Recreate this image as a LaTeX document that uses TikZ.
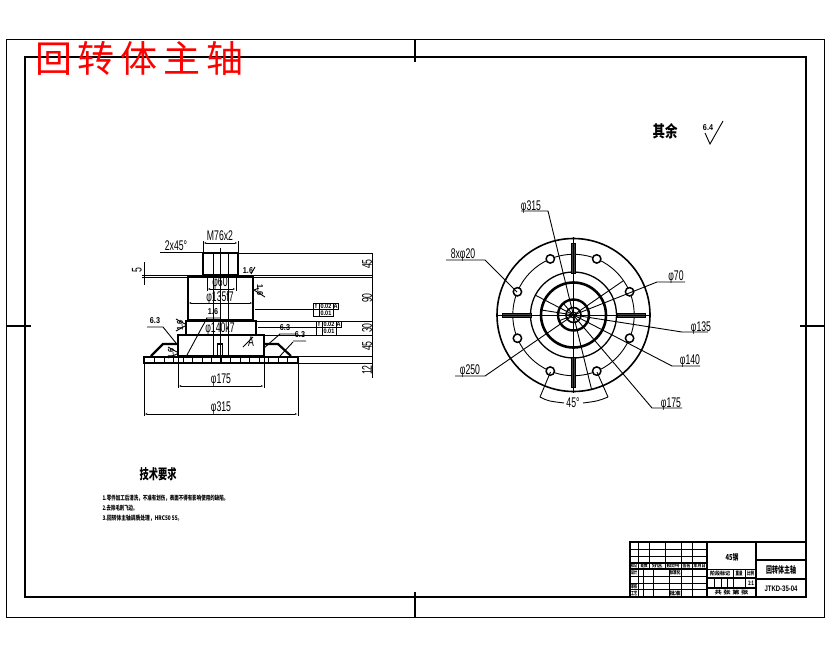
\documentclass[tikz,border=0pt]{standalone}
\usepackage{fontspec}
\usepackage{graphicx}
\setmainfont{Liberation Sans}
\newfontfamily\cjk{Noto Sans CJK SC}
\usetikzlibrary{arrows.meta}
\newcommand{\dt}[1]{\scalebox{0.62}[1]{\fontsize{14}{14}\selectfont #1}}
\newcommand{\tny}[1]{\scalebox{0.85}[1]{\fontsize{8.5}{8.5}\selectfont\bfseries #1}}
\newcommand{\tol}[1]{\scalebox{0.85}[1]{\fontsize{6.5}{6.5}\selectfont\bfseries #1}}
\newcommand{\cn}[3]{\resizebox{#1pt}{#2pt}{\cjk\bfseries #3}}
\tikzset{
  thin line/.style={line width=0.9pt,black},
  frame line/.style={line width=2pt,black},
  part line/.style={line width=2.2pt,black},
  dim/.style={line width=0.8pt,black,{Latex[length=3pt,width=1.6pt]}-{Latex[length=3pt,width=1.6pt]}},
  lbl/.style={inner sep=0pt,outer sep=0pt,black},
}
\begin{document}
\begin{tikzpicture}[x=1pt,y=-1pt]
\useasboundingbox (0,0) rectangle (830,654);
\fill[white] (0,0) rectangle (830,654);
% frames
\draw[thin line] (6,39) rectangle (824,617);
\draw[frame line] (25,57) rectangle (806,597);
\draw[frame line] (415,39) -- (415,62) (415,592) -- (415,617) (6,326) -- (31,326) (800,326) -- (824,326);
% title
\node[lbl,text=red,anchor=west] (title) at (35,58) {\fontsize{37}{37}\cjk 回\hspace{6pt}转\hspace{6pt}体\hspace{6pt}主\hspace{6pt}轴};
% other-surfaces note
\node[lbl] (other) at (665,131) {\cn{25}{14}{其余}};
\draw[thin line] (705,133) -- (710,144) -- (723,121);
\node[lbl] (ra) at (708,128) {\tny{6.4}};
% ---------- front view: dimension/extension lines
\draw[thin line] (238,253) -- (372,253) (142,275) -- (372,275) (142,277) -- (372,277)
  (256,321) -- (372,321) (264,335) -- (372,335) (264,356) -- (372,356) (298,363) -- (372,363)
  (372,253) -- (372,378) (144,262) -- (144,285);
\draw[thin line] (255,309) -- (313,309) (258,327) -- (316,327);
\draw[thin line] (220,248) -- (220,363) (213,253) -- (213,357) (228,253) -- (228,357);
\draw[thin line] (207,277) -- (207,291) (236,277) -- (236,291);
\draw[thin line] (203,253) -- (203,241) (238,253) -- (238,241);
\draw[thin line] (178,356) -- (178,388) (264,356) -- (264,388) (144,363) -- (144,416) (298,363) -- (298,416);
\draw[dim] (203,243) -- (238,243);
\draw[dim] (207,289) -- (236,289);
\draw[dim] (188,303) -- (253,303);
\draw[dim] (178,386) -- (264,386);
\draw[dim] (144,414) -- (298,414);
\draw[thin line] (160,252) -- (203,252);
% ---------- front view: part outline
\draw[part line] (203,275) rectangle (238,253);
\draw[part line] (188,277) rectangle (253,320);
\draw[part line] (186,321) rectangle (256,335);
\draw[part line] (178,335) rectangle (264,356);
\draw[part line] (151,356) -- (163,344) -- (178,344);
\draw[part line] (264,344) -- (278,344) -- (291,356);
\draw[part line] (144,357) rectangle (298,363);
\foreach \k in {0,...,14} \draw[thin line] ({154.7+\k*9.5},357) -- ({154.7+\k*9.5},363);
\draw[line width=1.5pt] (217.5,344) -- (217.5,357) (222.5,344) -- (222.5,357) (217,344) -- (223,344);
% dimension text, front view
\node[lbl] (d1) at (220,236) {\dt{M76x2}};
\node[lbl] (d2) at (176,246) {\dt{2x45°}};
\node[lbl,rotate=90] (d3) at (137,270) {\dt{5}};
\node[lbl] (d4) at (220,283) {\dt{φ60}};
\node[lbl] (d5) at (220,298) {\dt{φ135f7}};
\node[lbl] (d6) at (220,329) {\dt{φ140k7}};
\node[lbl] (d7) at (221,380) {\dt{φ175}};
\node[lbl] (d8) at (221,408) {\dt{φ315}};
\node[lbl,rotate=90] (d9) at (367,264) {\dt{45}};
\node[lbl,rotate=90] (d10) at (367,298) {\dt{90}};
\node[lbl,rotate=90] (d11) at (367,328) {\dt{30}};
\node[lbl,rotate=90] (d12) at (367,346) {\dt{45}};
\node[lbl,rotate=90] (d13) at (367,370) {\dt{12}};
% surface marks, front view
\draw[thin line] (147,327) -- (163,327) -- (176,343);
\node[lbl] (s1) at (155,321) {\tny{6.3}};
\draw[thin line] (176,319) -- (185,324) (176,331) -- (185,326);
\node[lbl,rotate=90] (s2) at (180,325) {\tny{1.6}};
\draw[thin line] (168,347) -- (177,352) (168,358) -- (177,354);
\node[lbl,rotate=90] (s3) at (171,353) {\tny{1.6}};
\draw[thin line] (206,318) -- (220,318) (207,318) -- (187,355);
\node[lbl] (s4) at (213,312) {\tny{1.6}};
\draw[thin line] (279,334) -- (296,334) (280,334) -- (264,348);
\node[lbl] (s5) at (285,328) {\tny{6.3}};
\draw[thin line] (293,341) -- (306,341) (293,342) -- (280,356);
\node[lbl] (s6) at (300,335) {\tny{6.3}};
\node[lbl] (s7) at (248,271) {\tny{1.6}};
\draw[thin line] (251,274) -- (255,267);
\draw[thin line] (254,290) -- (265,297) (254,290) -- (259,288);
\node[lbl,rotate=-90] (s8) at (260,290) {\tny{1.6}};
\node[lbl] (s9) at (251,342) {\dt{A}};
\draw[thin line] (243,347) -- (253,337);
% tolerance frames
\draw[thin line] (313,303) rectangle (338,309) (313,309) rectangle (333,316) (319,303) -- (319,316) (333,303) -- (333,309);
\draw[thin line] (316,321) rectangle (341,327) (316,327) rectangle (336,335) (322,321) -- (322,335) (336,321) -- (336,327);
\node[lbl] (t1) at (326,306) {\tol{0.02}};
\node[lbl] (t2) at (326,313) {\tol{0.01}};
\node[lbl] (t3) at (329,324) {\tol{0.02}};
\node[lbl] (t4) at (329,331) {\tol{0.01}};
\node[lbl] (t5) at (335.5,306) {\tol{A}};
\node[lbl] (t6) at (338.5,324) {\tol{A}};
\node[lbl] (t7) at (316,306) {\tol{f}};
\node[lbl] (t8) at (319,324) {\tol{f}};
% ---------- plan view
\coordinate (C) at (573.5,315);
\draw[thin line] (C) circle[radius=60.7];
\draw[line width=1.6pt] (C) circle[radius=76.5];
\draw[line width=1.3pt] (C) circle[radius=43];
\draw[line width=2.6pt] (C) circle[radius=32.5];
\draw[line width=2.4pt] (C) circle[radius=15.5];
\draw[line width=1.6pt] (C) circle[radius=7.5];
\draw[thin line] (C) circle[radius=3];
% slots
\draw[line width=1pt,fill=black!75] (571.5,243) rectangle (575.5,273);
\draw[line width=1pt,fill=black!75] (571.5,357) rectangle (575.5,387);
\draw[line width=1pt,fill=black!75] (502,313) rectangle (531,317);
\draw[line width=1pt,fill=black!75] (617,313) rectangle (645,317);
\draw[thin line] (496,315) -- (651,315) (573.5,237) -- (573.5,393);
% holes
\foreach \h in {22.5,67.5,...,337.5}
  \draw[line width=1.5pt,fill=white] ({573.5+60.7*cos(\h)},{315+60.7*sin(\h)}) circle[radius=4.2];
% leaders
\draw[thin line] (521,211) -- (548,211) -- (591.7,390);
\draw[thin line] (446,260) -- (485,260) -- (517,292);
\draw[thin line] (685,282) -- (657,282) -- (558.6,321);
\draw[thin line] (708,332) -- (682,332) -- (541.4,310);
\draw[thin line] (700,366) -- (672,366) -- (535,295);
\draw[thin line] (682,408) -- (652,408) -- (563,303);
\draw[thin line] (455,376) -- (485,376) -- (623.5,280.6);
\node[lbl] (p1) at (531,207) {\dt{φ315}};
\node[lbl] (p2) at (463,255) {\dt{8xφ20}};
\node[lbl] (p3) at (676,277) {\dt{φ70}};
\node[lbl] (p4) at (701,328) {\dt{φ135}};
\node[lbl] (p5) at (690,361) {\dt{φ140}};
\node[lbl] (p6) at (671,404) {\dt{φ175}};
\node[lbl] (p7) at (470,371) {\dt{φ250}};
\node[lbl] (p8) at (573,403) {\dt{45°}};
\draw[thin line] (550.5,372) -- (540,397) (597,372) -- (608,397);
\draw[thin line] (540,397) .. controls (548,401) .. (564,403);
\draw[thin line] (583,403) .. controls (598,401) .. (608,397);
% ---------- technical notes
\node[lbl] (n0) at (158,474) {\cn{37}{12}{技术要求}};
\node[lbl,anchor=west] (n1) at (102.5,498) {\cn{126}{5.5}{1.零件加工后清洗，不准有划伤，表面不得有影响使用的缺陷。}};
\node[lbl,anchor=west] (n2) at (102.5,508) {\cn{35}{5.5}{2.去除毛刺飞边。}};
\node[lbl,anchor=west] (n3) at (102.5,518) {\cn{80}{5.5}{3.回转体主轴调质处理，HRC50~55。}};
% ---------- title block
\draw[line width=1.8pt] (630,597) -- (630,542) -- (806,542);
\draw[line width=1.6pt] (707,542) -- (707,597) (756,542) -- (756,597);
\draw[thin line] (630,549) -- (707,549) (630,556) -- (707,556);
\draw[line width=1.4pt] (630,563) -- (707,563) (630,569) -- (707,569);
\draw[thin line] (630,576) -- (707,576) (630,583) -- (707,583) (630,589) -- (707,589);
\foreach \x in {638,649,665,681,692} \draw[thin line] (\x,542) -- (\x,569);
\foreach \x in {638,643,653,669,681,692} \draw[thin line] (\x,569) -- (\x,597);
\draw[thin line] (707,569) -- (756,569);
\draw[line width=1.3pt] (707,578) -- (756,578) (707,588) -- (756,588);
\foreach \x in {714,721,727,733,745} \draw[thin line] (\x,578) -- (\x,588);
\draw[thin line] (733,569) -- (733,578) (745,569) -- (745,578);
\draw[line width=1.4pt] (756,560) -- (806,560) (756,579) -- (806,579);
\node[lbl] (b1) at (732,557) {\cn{13}{7}{45钢}};
\node[lbl] (b2) at (781,570) {\cn{30}{8}{回转体主轴}};
\node[lbl] (b3) at (781,589) {\scalebox{0.75}[1]{\fontsize{8}{8}\selectfont\bfseries JTKD-35-04}};
\node[lbl] (b4) at (720,573.5) {\cn{20}{4.5}{阶段标记}};
\node[lbl] (b5) at (739,573.5) {\cn{7}{4.5}{重量}};
\node[lbl] (b6) at (750.5,573.5) {\cn{7}{4.5}{比例}};
\node[lbl] (b7) at (751,583) {\cn{6}{4.5}{1:1}};
\node[lbl] (b8) at (731.5,592.5) {\cn{34}{4.5}{共 张 第 张}};
\node[lbl] (b9) at (634,566) {\cn{6}{4}{标记}};
\node[lbl] (b10) at (644,566) {\cn{7}{4}{处数}};
\node[lbl] (b11) at (657,566) {\cn{11}{4}{分区}};
\node[lbl] (b12) at (673,566) {\cn{13}{4}{更改文件号}};
\node[lbl] (b13) at (686.5,566) {\cn{8}{4}{签名}};
\node[lbl] (b14) at (699.5,566) {\cn{12}{4}{年月日}};
\node[lbl] (b15) at (634,572.5) {\cn{6}{4.5}{设计}};
\node[lbl] (b16) at (675,572.5) {\cn{11}{4.5}{标准化}};
\node[lbl] (b17) at (634,586) {\cn{6}{4.5}{审核}};
\node[lbl] (b18) at (634,593) {\cn{6}{4.5}{工艺}};
\node[lbl] (b19) at (675,593) {\cn{11}{4.5}{批准}};
\end{tikzpicture}
\end{document}
